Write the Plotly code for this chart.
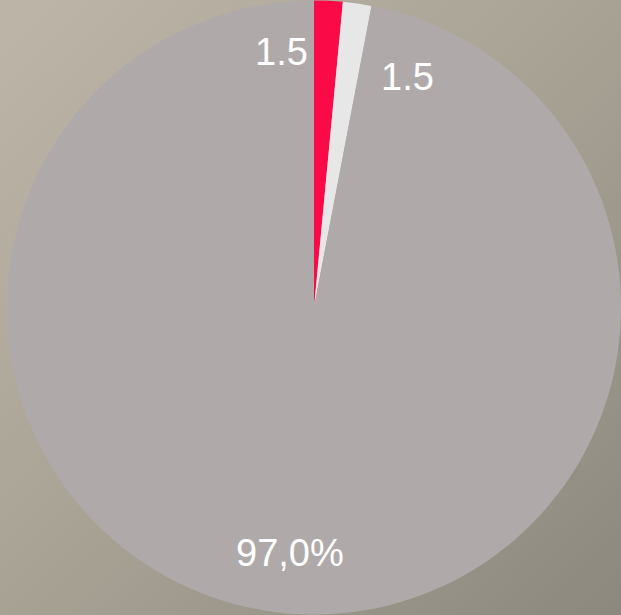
import plotly.graph_objects as go
import urllib.parse

categories = ["A", "B", "Rest"]
values = [1.5, 1.5, 97.0]
colors = ["#fb0a48", "#e8e7e8", "#afaaa9"]
label_texts = ["1.5", "1.5", "97,0%"]
label_x = [0.454, 0.657, 0.467]
label_y = [0.916, 0.874, 0.101]

fig = go.Figure(go.Pie(
    labels=categories,
    values=values,
    marker=dict(colors=colors, line=dict(width=0)),
    sort=False,
    direction="clockwise",
    rotation=0,
    textinfo="none",
    hoverinfo="label+value",
    domain=dict(x=[0.0113, 1], y=[0, 1]),
    showlegend=False,
))

svg = ('<svg xmlns="http://www.w3.org/2000/svg" width="621" height="615">'
       '<defs><linearGradient id="g" x1="0" y1="0" x2="1" y2="1">'
       '<stop offset="0" stop-color="#bdb6a8"/>'
       '<stop offset="0.5" stop-color="#a8a295"/>'
       '<stop offset="1" stop-color="#8d887e"/>'
       '</linearGradient></defs>'
       '<rect width="621" height="615" fill="url(#g)"/></svg>')
src = "data:image/svg+xml;charset=utf-8," + urllib.parse.quote(svg)

annotations = [
    dict(x=x, y=y, xref="paper", yref="paper", text=t, showarrow=False,
         xanchor="center", yanchor="middle",
         font=dict(family="Liberation Sans, Arial, sans-serif", size=38, color="white"))
    for t, x, y in zip(label_texts, label_x, label_y)
]

fig.update_layout(
    width=621, height=615,
    margin=dict(l=0, r=0, t=0, b=0),
    paper_bgcolor="#a8a295",
    plot_bgcolor="rgba(0,0,0,0)",
    images=[dict(source=src, xref="paper", yref="paper", x=0, y=1,
                 sizex=1, sizey=1, xanchor="left", yanchor="top",
                 sizing="stretch", layer="below")],
    annotations=annotations,
)

fig.write_html("out.html", config={"displayModeBar": False},
               post_script="document.body.style.margin='0';document.body.style.overflow='hidden';")
